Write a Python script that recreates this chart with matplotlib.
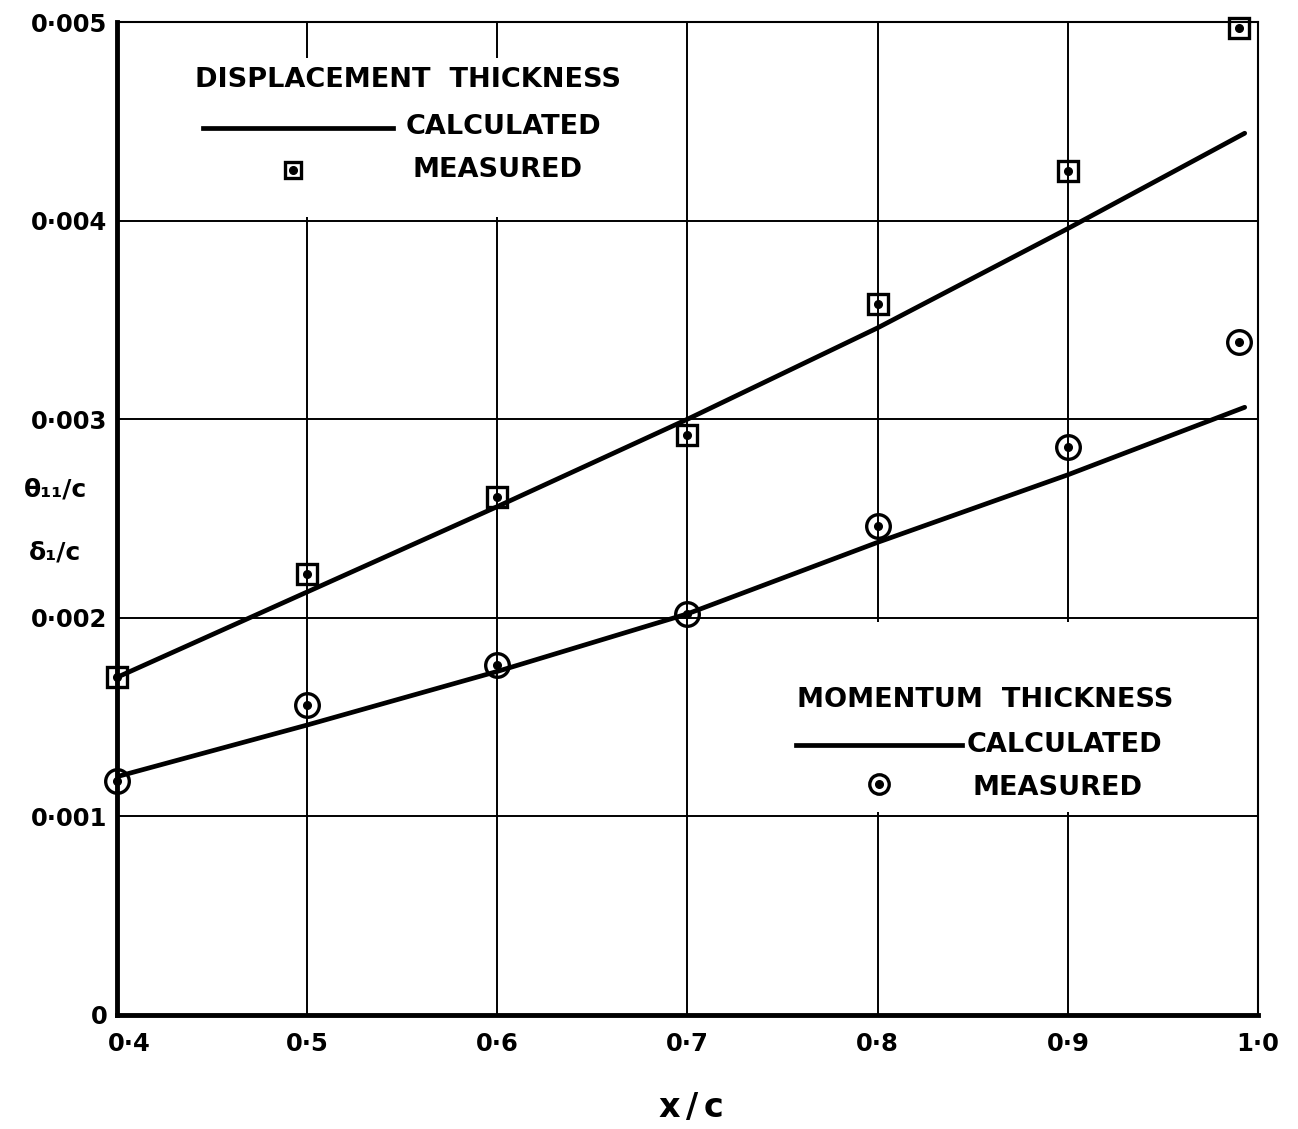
import matplotlib
matplotlib.use("Agg")
import matplotlib.pyplot as plt
from matplotlib.patches import Rectangle
from matplotlib.transforms import ScaledTranslation

# chordwise stations
x_meas = [0.4, 0.5, 0.6, 0.7, 0.8, 0.9, 0.99]
x_calc = [0.4, 0.5, 0.6, 0.7, 0.8, 0.9, 0.993]

# displacement thickness delta_1 / c
disp_meas = [0.00170, 0.00222, 0.00261, 0.00292, 0.00358, 0.00425, 0.00497]
disp_calc = [0.00170, 0.00213, 0.00256, 0.00300, 0.00346, 0.00396, 0.00444]

# momentum thickness theta_11 / c
mom_meas = [0.00118, 0.00156, 0.00176, 0.00202, 0.00246, 0.00286, 0.00339]
mom_calc = [0.00120, 0.00146, 0.00173, 0.00202, 0.00238, 0.00272, 0.00306]

xticks = [0.4, 0.5, 0.6, 0.7, 0.8, 0.9, 1.0]
xtick_labels = ["0·4", "0·5", "0·6", "0·7", "0·8", "0·9", "1·0"]
yticks = [0, 0.001, 0.002, 0.003, 0.004, 0.005]
ytick_labels = ["0", "0·001", "0·002", "0·003", "0·004", "0·005"]

plt.rcParams['font.family'] = ['DejaVu Sans']
plt.rcParams['font.weight'] = 'bold'

fig = plt.figure(figsize=(12.98, 11.29), dpi=100)
ax = fig.add_axes([0.0901, 0.101, 0.8791, 0.8795])
ax.set_xlim(0.4, 1.0)
ax.set_ylim(0, 0.005)

ax.set_xticks(xticks)
ax.set_xticklabels(xtick_labels, fontsize=17.5, fontweight='bold')
ax.set_yticks(yticks)
ax.set_yticklabels(ytick_labels, fontsize=17.5, fontweight='bold')
ax.tick_params(length=0, pad=7)
ax.tick_params(axis='x', pad=12)
# first x label sits clear of the corner
first = ax.get_xticklabels()[0]
first.set_transform(first.get_transform() + ScaledTranslation(0.12, 0, fig.dpi_scale_trans))

ax.grid(True, color='black', linewidth=1.4)
ax.set_axisbelow(True)
for side in ['left', 'bottom']:
    ax.spines[side].set_linewidth(3.5)
for side in ['top', 'right']:
    ax.spines[side].set_linewidth(1.5)

# blank panels behind the two key blocks
ax.add_patch(Rectangle((0.43, 0.00402), 0.255, 0.0008, facecolor='white',
                       edgecolor='none', zorder=1))
ax.add_patch(Rectangle((0.73, 0.00102), 0.265, 0.00096, facecolor='white',
                       edgecolor='none', zorder=1))

lw = 3.4
ax.plot(x_calc, disp_calc, color='black', lw=lw, zorder=3, solid_capstyle='round')
ax.plot(x_calc, mom_calc, color='black', lw=lw, zorder=3, solid_capstyle='round')

sq = dict(marker='s', ms=14, mfc='none', mec='black', mew=2.4, ls='none',
          zorder=4, clip_on=False)
ci = dict(marker='o', ms=17, mfc='none', mec='black', mew=2.4, ls='none',
          zorder=4, clip_on=False)
dot = dict(marker='o', ms=5.5, color='black', ls='none', zorder=5, clip_on=False)

ax.plot(x_meas, disp_meas, **sq)
ax.plot(x_meas, disp_meas, **dot)
ax.plot(x_meas, mom_meas, **ci)
ax.plot(x_meas, mom_meas, **dot)

# key: displacement thickness
tk = dict(fontsize=19.5, fontweight='bold', color='black', va='center', zorder=6)
ax.text(0.441, 0.004708, "DISPLACEMENT  THICKNESS", ha='left', **tk)
ax.plot([0.445, 0.545], [0.004466, 0.004466], color='black', lw=lw, zorder=6)
ax.text(0.552, 0.004471, "CALCULATED", ha='left', **tk)
ax.plot([0.4924], [0.004255], **{**sq, 'ms': 12})
ax.plot([0.4924], [0.004255], **dot)
ax.text(0.5554, 0.004255, "MEASURED", ha='left', **tk)

# key: momentum thickness
ax.text(0.7575, 0.001586, "MOMENTUM  THICKNESS", ha='left', **tk)
ax.plot([0.757, 0.8446], [0.00136, 0.00136], color='black', lw=lw, zorder=6)
ax.text(0.8467, 0.00136, "CALCULATED", ha='left', **tk)
ax.plot([0.8005], [0.001163], **{**ci, 'ms': 14})
ax.plot([0.8005], [0.001163], **dot)
ax.text(0.850, 0.001143, "MEASURED", ha='left', **tk)

# axis titles
fig.text(0.0425, 1 - 490 / 1129, "θ₁₁/c", fontsize=18, fontweight='bold',
         ha='center', va='center')
fig.text(0.0425, 1 - 552 / 1129, "δ₁/c", fontsize=18, fontweight='bold',
         ha='center', va='center')
fig.text(0.532, 1 - 1108 / 1129, r"$\mathbf{x\,/\,c}$", fontsize=24,
         ha='center', va='center')

fig.savefig("out.png", dpi=100, facecolor='white')
